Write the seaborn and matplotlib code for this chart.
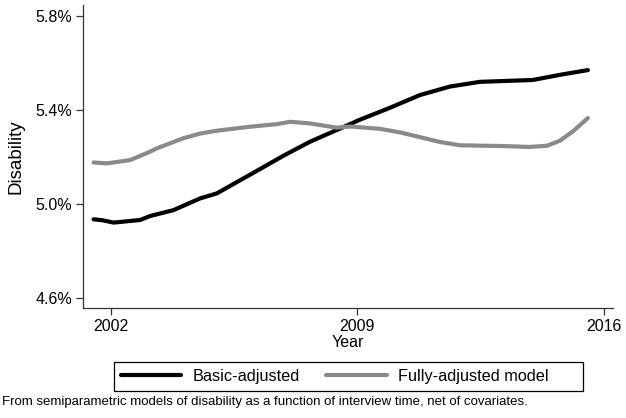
import matplotlib
matplotlib.use("Agg")
import matplotlib.pyplot as plt
import seaborn as sns
import pandas as pd
from matplotlib.lines import Line2D
from matplotlib.patches import Rectangle

basic_years = [2001.50, 2001.75, 2002.07, 2002.82, 2003.11, 2003.77, 2004.53, 2005.00,
               2005.95, 2006.89, 2007.65, 2008.41, 2008.79, 2009.04, 2009.93, 2010.78,
               2011.63, 2012.48, 2013.05, 2013.99, 2014.76, 2015.55]
basic_vals = [4.935, 4.931, 4.921, 4.932, 4.949, 4.974, 5.024, 5.045,
              5.125, 5.205, 5.265, 5.315, 5.340, 5.357, 5.41, 5.464,
              5.50, 5.52, 5.523, 5.528, 5.55, 5.57]

full_years = [2001.50, 2001.88, 2002.54, 2003.11, 2003.30, 2004.05, 2004.53, 2005.00,
              2005.95, 2006.71, 2007.09, 2007.65, 2008.41, 2008.79, 2009.64, 2010.21,
              2011.35, 2011.91, 2013.05, 2013.90, 2014.39, 2014.76, 2015.13, 2015.55]
full_vals = [5.177, 5.173, 5.187, 5.223, 5.237, 5.28, 5.30, 5.312,
             5.329, 5.34, 5.35, 5.343, 5.325, 5.33, 5.32, 5.305,
             5.264, 5.25, 5.247, 5.243, 5.248, 5.27, 5.31, 5.366]

x_ticks = [2002, 2009, 2016]
y_ticks = [4.6, 5.0, 5.4, 5.8]
y_tick_labels = ["4.6%", "5.0%", "5.4%", "5.8%"]

sns.set_theme(style="white")
plt.rcParams['font.family'] = ['Liberation Sans', 'DejaVu Sans']
plt.rcParams['text.color'] = 'black'
plt.rcParams['axes.labelcolor'] = 'black'
plt.rcParams['xtick.color'] = 'black'
plt.rcParams['ytick.color'] = 'black'

df = pd.concat([
    pd.DataFrame({"Year": basic_years, "Disability": basic_vals, "Model": "Basic-adjusted"}),
    pd.DataFrame({"Year": full_years, "Disability": full_vals, "Model": "Fully-adjusted model"}),
])

fig = plt.figure(figsize=(6.26, 4.18), dpi=100)
ax = fig.add_axes([0.1326, 0.264, 0.979 - 0.1326, 0.988 - 0.264])
sns.lineplot(data=df, x="Year", y="Disability", hue="Model",
             palette={"Basic-adjusted": "black", "Fully-adjusted model": "#8a8a8a"},
             linewidth=3, ax=ax, legend=False)

ax.set_xlim(2001.2, 2016.26)
ax.set_ylim(4.559, 5.847)
ax.set_xticks(x_ticks)
ax.set_xticklabels([str(t) for t in x_ticks], fontsize=11.5)
ax.set_yticks(y_ticks)
ax.set_yticklabels(y_tick_labels, fontsize=11.5)
ax.set_xlabel("Year", fontsize=11.5, labelpad=1)
ax.set_ylabel("Disability", fontsize=13.5, labelpad=8)
for s in ["top", "right"]:
    ax.spines[s].set_visible(False)
for s in ["left", "bottom"]:
    ax.spines[s].set_color("#333333")
    ax.spines[s].set_linewidth(0.9)
ax.tick_params(axis="both", direction="out", length=5, width=0.9, color="#333333",
               bottom=True, left=True, pad=3)

# legend (frame drawn separately to match the wide right padding)
handles = [Line2D([], [], color="black", lw=3), Line2D([], [], color="#8a8a8a", lw=3)]
leg = fig.legend(handles, ["Basic-adjusted", "Fully-adjusted model"], ncol=2,
                 loc="center left", bbox_to_anchor=(121.0 / 626, 1 - 376.5 / 418),
                 fontsize=11.7, frameon=False, handlelength=3.7, columnspacing=1.66,
                 borderpad=0.0, borderaxespad=0.0, handletextpad=0.68)
fig.patches.append(Rectangle((114 / 626, 1 - 391 / 418), 469 / 626, 29 / 418,
                             transform=fig.transFigure, fill=False,
                             edgecolor="black", linewidth=0.9))

fig.text(0.003, 0.038, "From semiparametric models of disability as a function of interview time, net of covariates.",
         fontsize=9.5, ha="left", va="center")

fig.savefig("out.png", dpi=100)
